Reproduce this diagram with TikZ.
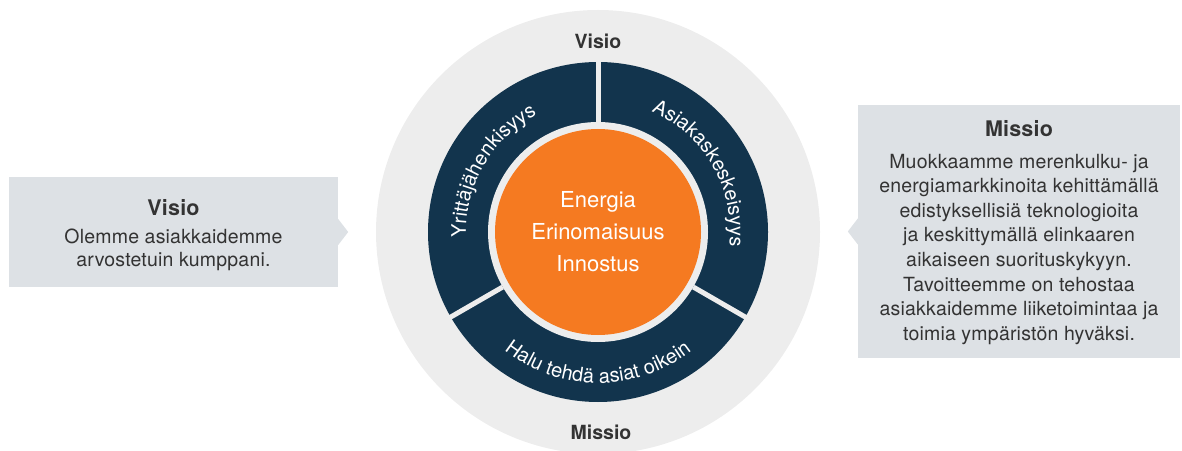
\documentclass[tikz,border=0pt]{standalone}
\usepackage{fontspec}
\setmainfont{TeX Gyre Heros}
\usetikzlibrary{positioning, decorations.text}
\definecolor{navy}{HTML}{12344D}
\definecolor{orng}{HTML}{F57A21}
\definecolor{ringgrey}{HTML}{EDEDED}
\definecolor{boxgrey}{HTML}{DDE1E5}
\definecolor{txtgrey}{HTML}{333333}
\newcommand\arcfont{\fontsize{20}{24}\selectfont\color{white}}
\newcommand\boxhead[1]{{\bfseries\fontsize{21.5}{24}\selectfont #1}}

\begin{document}
\begin{tikzpicture}[x=1pt, y=1pt]
	% Define styles
	\tikzset{
		disc/.style={circle, inner sep=0pt, outer sep=0pt},
		sep/.style={draw=ringgrey, line width=5pt, shorten >=-3pt},
		ringlabel/.style={text=txtgrey, font=\bfseries\fontsize{19.5}{22}\selectfont},
		box/.style={rectangle, fill=boxgrey, inner sep=0pt},
		boxtext/.style={inner sep=0pt, text=txtgrey, align=center, font=\addfontfeature{LetterSpace=1}\fontsize{19.5}{24.6}\selectfont},
		pointer/.style={fill=boxgrey},
		arctext/.style={decorate, decoration={text along path, text align=center}}
	}
	\useasboundingbox (0,0) rectangle (1182,450);
	
	% Nodes
	\node[disc, fill=ringgrey, minimum size=444pt] (outer) at (598,218) {};
	\node[disc, fill=navy, minimum size=340pt] (ring) at (outer.center) {};
	\node[disc, fill=ringgrey, minimum size=220pt] (gap) at (outer.center) {};
	\node[disc, fill=orng, minimum size=206pt, text=white, align=center, font=\fontsize{22}{32}\selectfont] (core) at (outer.center) {Energia\\Erinomaisuus\\Innostus};
	
	\node[ringlabel] (vtop) at (598,409) {Visio};
	\node[ringlabel] (mbot) at (601,18) {Missio};
	
	\node[box, minimum width=329pt, minimum height=110pt] (visio) at (173.5,218) {};
	\node[boxtext] (visiotxt) at ([yshift=-3pt]visio.center) {\boxhead{Visio}\\[4pt]Olemme asiakkaidemme\\[-1.5pt]arvostetuin kumppani.};
	\node[box, minimum width=322pt, minimum height=253pt] (missio) at (1019,218.5) {};
	\node[boxtext] (missiotxt) at ([yshift=-1pt]missio.center) {\boxhead{Missio}\\[7pt]Muokkaamme merenkulku- ja\\energiamarkkinoita kehittämällä\\edistyksellisiä teknologioita\\ja keskittymällä elinkaaren\\aikaiseen suorituskykyyn.\\Tavoitteemme on tehostaa\\asiakkaidemme liiketoimintaa ja\\toimia ympäristön hyväksi.};
	
	% Separators
	\draw[sep] (gap.90) -- (ring.90);
	\draw[sep] (gap.210) -- (ring.210);
	\draw[sep] (gap.330) -- (ring.330);
	
	% Texts on the ring
	\path[arctext, decoration={text={|\arcfont|Yrittäjähenkisyys}}] (ring.center) ++(210:132) arc[start angle=210, end angle=90, radius=132];
	\path[arctext, decoration={text={|\arcfont|Asiakaskeskeisyys}}] (ring.center) ++(90:132) arc[start angle=90, end angle=-30, radius=132];
	\path[arctext, decoration={text={|\arcfont|Halu tehdä asiat oikein}}] (ring.center) ++(210:151) arc[start angle=210, end angle=330, radius=151];
	
	% Pointers
	\fill[pointer] ([yshift=13pt]visio.east) -- ([xshift=10pt]visio.east) -- ([yshift=-13pt]visio.east) -- cycle;
	\fill[pointer] ([yshift=13pt]missio.west) -- ([xshift=-10pt]missio.west) -- ([yshift=-13pt]missio.west) -- cycle;
	
\end{tikzpicture}
\end{document}
